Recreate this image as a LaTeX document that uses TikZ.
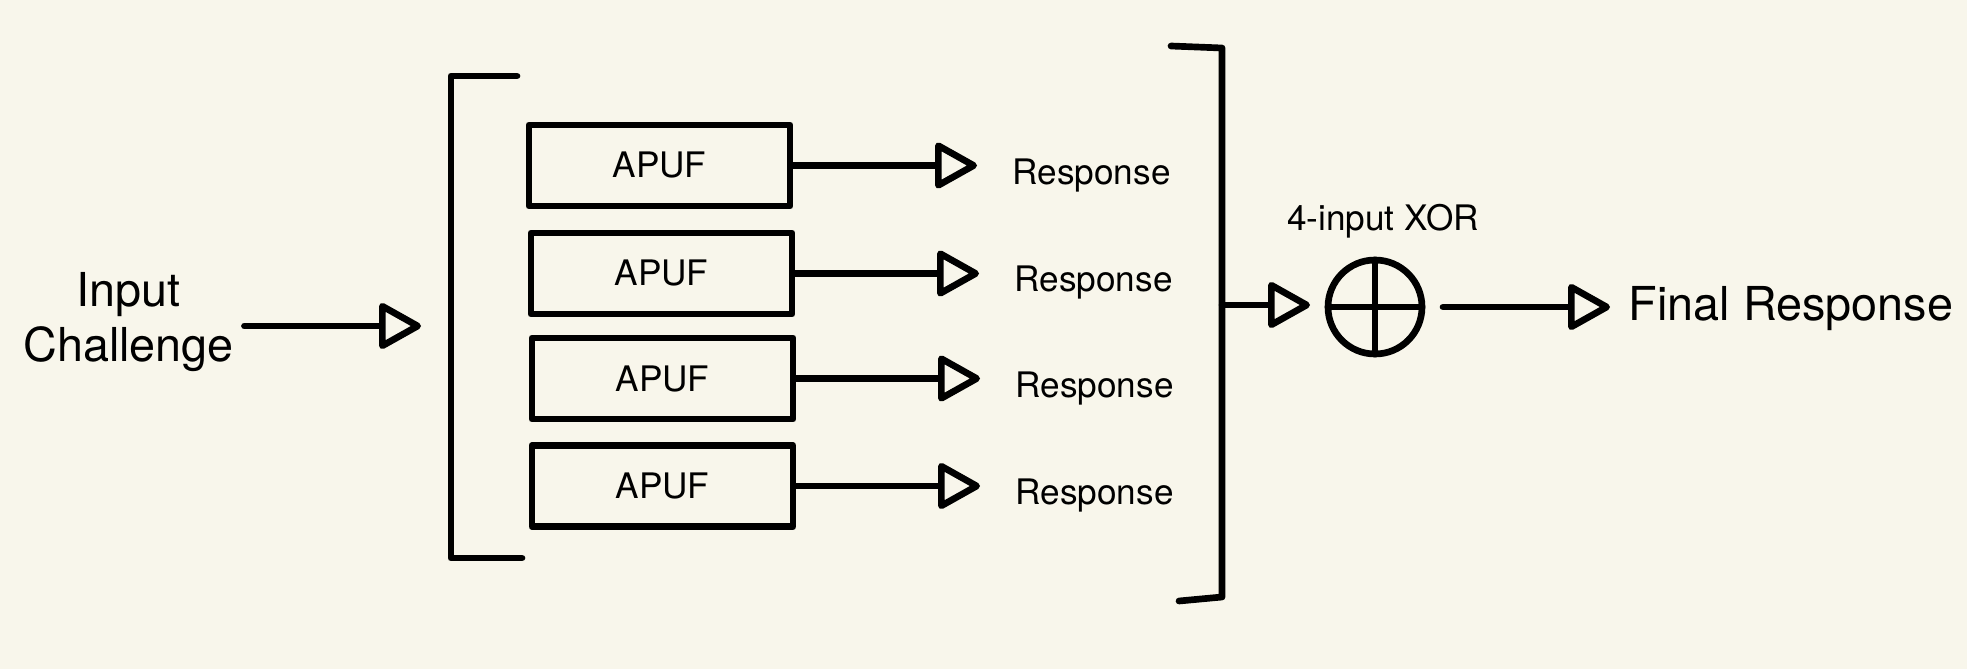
\documentclass[tikz,border=0pt]{standalone}
\usepackage{fontspec}
\setmainfont{TeX Gyre Heros}
\usepackage{xcolor}
\usetikzlibrary{arrows.meta}
\definecolor{paper}{RGB}{248,246,235}
\tikzset{
  thickline/.style={line width=1.9pt, line cap=round, line join=round},
  flow/.style={thickline, -{Triangle[open,round,length=13pt,width=14pt]}},
  apuf/.style={draw, thickline, rectangle, minimum width=26.1mm,
    minimum height=8.1mm, inner sep=0pt, font=\fontsize{10}{12}\selectfont},
  resp/.style={inner sep=0pt, anchor=base west, font=\fontsize{10}{12}\selectfont},
  big/.style={inner sep=0pt, font=\fontsize{13.3}{15.65}\selectfont},
}
\begin{document}
\begin{tikzpicture}[x=0.1mm, y=-0.1mm]
    \fill[paper] (0,0) rectangle (1967,669);
    \useasboundingbox (0,0) rectangle (1967,669);
    \node[big, align=center] (inchal) at (128.5,322) {Input\\Challenge};
    \coordinate (lbrkin) at (421,326);
    \draw[flow, shorten <=1mm] (inchal.east |- lbrkin) -- (lbrkin);
    \draw[thickline] (517,76) -- (451,76) -- (451,558) -- (522,558);
    \node[apuf] (apuf1) at (659.5,165.5) {APUF};
    \node[apuf] (apuf2) at (661.5,273.5) {APUF};
    \node[apuf] (apuf3) at (662.5,378.5) {APUF};
    \node[apuf] (apuf4) at (662.5,486) {APUF};
    \node[resp] (resp1) at (1012,184) {Response};
    \node[resp] (resp2) at (1014,291) {Response};
    \node[resp] (resp3) at (1015,397) {Response};
    \node[resp] (resp4) at (1015,504) {Response};
    \draw[flow, shorten >=3.5mm] (apuf1.east) -- (apuf1.east -| resp1.west);
    \draw[flow, shorten >=3.5mm] (apuf2.east) -- (apuf2.east -| resp2.west);
    \draw[flow, shorten >=3.5mm] (apuf3.east) -- (apuf3.east -| resp3.west);
    \draw[flow, shorten >=3.5mm] (apuf4.east) -- (apuf4.east -| resp4.west);
    \draw[thickline] (1171,46) -- (1222,48) -- (1222,597) -- (1179,601);
    \coordinate (rbrkout) at (1222,305);
    \node[draw, thickline, circle, minimum size=9.4mm, inner sep=0pt, outer sep=0pt] (xor) at (1375,307) {};
    \draw[thickline] (xor.north) -- (xor.south) (xor.west) -- (xor.east);
    \draw[flow, shorten >=1.8mm] (rbrkout) -- (rbrkout -| xor.west);
    \node[resp, anchor=base] (xorlbl) at (1383,230) {4-input XOR};
    \node[big, anchor=base west] (final) at (1628,320) {Final Response};
    \draw[flow, shorten <=2.1mm, shorten >=1.8mm] (xor.east) -- (xor.east -| final.west);
\end{tikzpicture}
\end{document}
